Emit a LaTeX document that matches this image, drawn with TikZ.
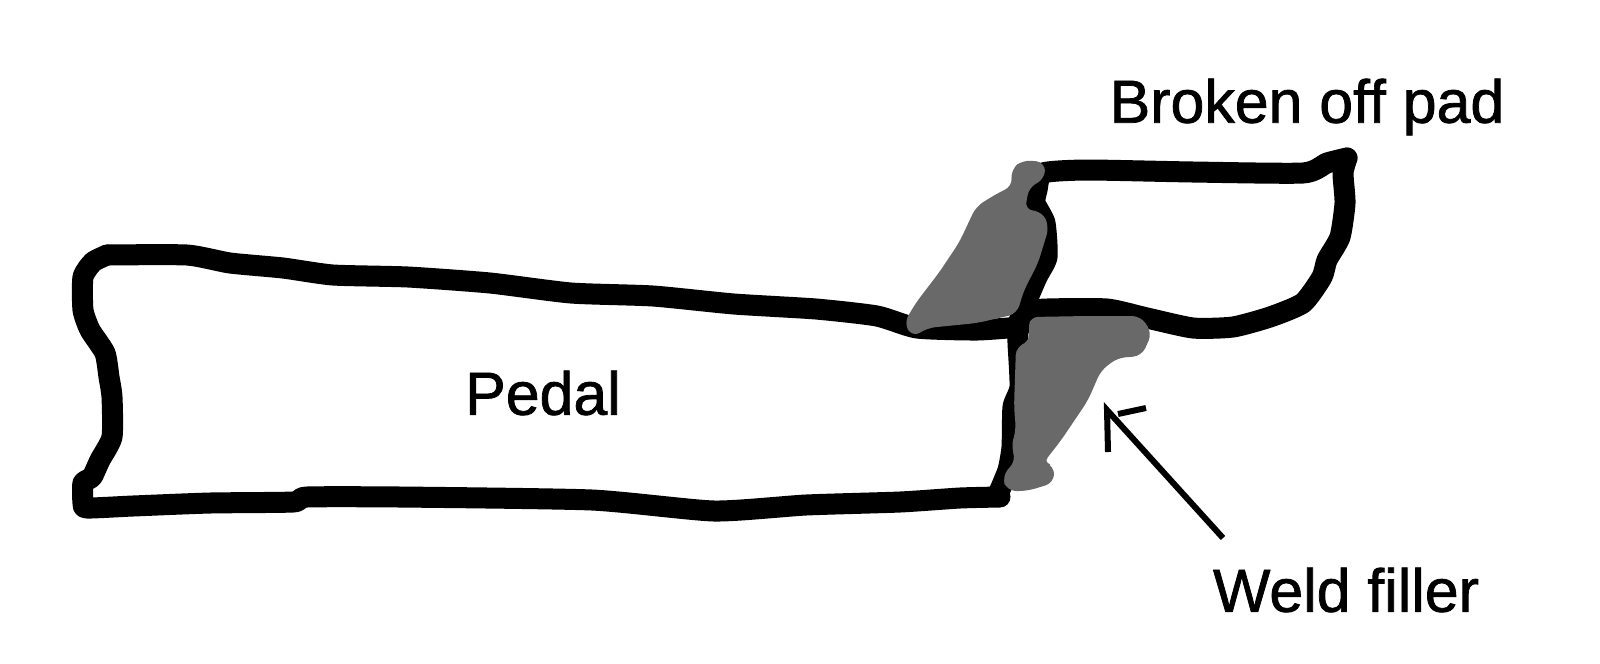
\documentclass[tikz,border=0pt]{standalone}
\usepackage{fontspec}
\setmainfont{Liberation Sans}
\newfontfamily\lblfont[RawFeature={embolden=1.2}]{Liberation Sans}
\usepackage{pgf,tikz}
\usetikzlibrary{calc}

\tikzset{
  outline/.style={line width=0.21cm,line cap=round,line join=round},
  weld/.style={fill=weldgray,draw=weldgray,line width=0.02cm,rounded corners=0.08cm},
  pointer/.style={line width=0.06cm},
  lbl/.style={font=\lblfont\fontsize{17.3}{20}\selectfont,inner sep=0pt}
}
\definecolor{weldgray}{HTML}{696969}

\begin{document}
\begin{tikzpicture}[x=0.01cm,y=-0.01cm]
\useasboundingbox (0,0) rectangle (1600,663);

% pedal
\draw[outline] plot [smooth,tension=0.35] coordinates {(107,255) (187,255) (230,263) (283,268) (333,275) (408,277) (490,283) (571,293) (653,296) (734,304) (816,309) (877,316) (917,328) (977,330) (1020,327)};
\draw[outline] plot [smooth,tension=0.35] coordinates {(107,255) (93,262) (83,277) (83,310) (90,330) (105,353) (109,377) (112,397) (112,437) (100,460) (92,477) (83,483) (83,503) (87,508) (133,506) (210,503) (293,502) (307,497) (400,497) (592,500) (714,511) (806,505) (900,502) (960,498) (1000,497)};
\draw[outline] plot [smooth,tension=0.35] coordinates {(1018,327) (1018,343) (1020,387) (1013,407) (1012,447) (1008,470) (999,492)};

% pad
\draw[outline] plot [smooth,tension=0.35] coordinates {(1017,330) (1023,312) (1047,309) (1107,309) (1147,318) (1193,328) (1233,327) (1270,317) (1303,303) (1322,277) (1327,260) (1340,237) (1345,203) (1343,173) (1347,158)};
\draw[outline] plot [smooth,tension=0.35] coordinates {(1347,158) (1327,163) (1303,173) (1193,172) (1087,170) (1043,173) (1037,190) (1035,203) (1045,223) (1047,257) (1037,277) (1023,310) (1017,330)};

% weld
\filldraw[weld] (1023,161)--(1044,163)--(1044,178)--(1028,187)--(1024,210)--(1042,213)--(1048,227)--(1037,263)--(1023,290)--(1016,313)--(977,322)--(927,327)--(913,336)--(905,323)--(917,303)--(940,273)--(960,243)--(977,207)--(1000,193)--(1013,187)--(1012,170)--cycle;
\filldraw[weld] (1030,318)--(1087,317)--(1140,317)--(1151,333)--(1141,355)--(1117,357)--(1100,370)--(1087,400)--(1060,440)--(1042,463)--(1053,466)--(1053,482)--(1027,490)--(1008,490)--(1003,477)--(1017,460)--(1012,447)--(1017,430)--(1015,407)--(1017,347)--(1030,343)--cycle;

% arrow
\coordinate (tail) at (1223,538);
\coordinate (tip) at (1107,410);
\coordinate (barbA) at (1108,452);
\coordinate (barbB) at (1118,414);
\coordinate (barbC) at (1146,408);
\draw[pointer] (tail)--(tip)--(barbA);
\draw[pointer] (barbB)--(barbC);

\node[lbl] (pad) at (1307,107) {Broken off pad};
\node[lbl] (pedal) at (543,393) {Pedal};
\node[lbl] (filler) at (1346,590) {Weld filler};
\end{tikzpicture}
\end{document}
